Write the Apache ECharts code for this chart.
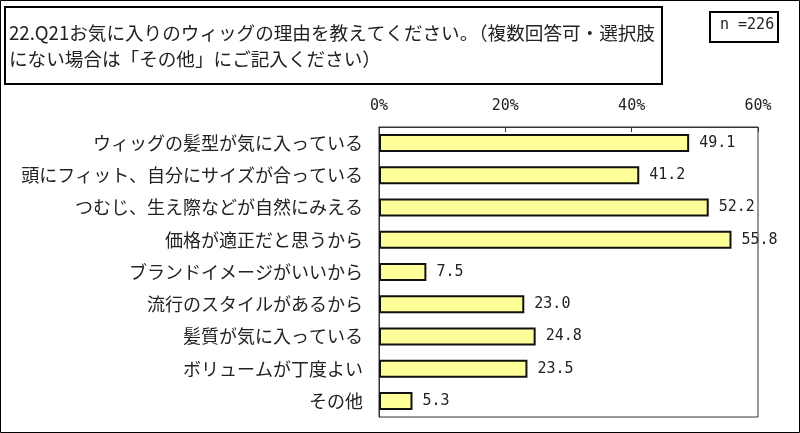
<!DOCTYPE html>
<html><head><meta charset="utf-8">
<script src="https://cdn.jsdelivr.net/npm/echarts@6/dist/echarts.min.js"></script>
<style>html,body{margin:0;padding:0;background:#fff}#c{width:800px;height:433px}</style>
</head><body><div id="c"></div>
<script>
const categories = ["ウィッグの髪型が気に入っている","頭にフィット、自分にサイズが合っている","つむじ、生え際などが自然にみえる","価格が適正だと思うから","ブランドイメージがいいから","流行のスタイルがあるから","髪質が気に入っている","ボリュームが丁度よい","その他"];
const values = [49.1, 41.2, 52.2, 55.8, 7.5, 23.0, 24.8, 23.5, 5.3];
const xTicks = [0, 20, 40, 60];
const titleLines = ["22.Q21お気に入りのウィッグの理由を教えてください。（複数回答可・選択肢", "にない場合は「その他」にご記入ください）"];
const nLabel = "n =226";

const jp = '"Noto Sans CJK JP", sans-serif';
const chart = echarts.init(document.getElementById('c'), null, {renderer:'canvas'});
chart.setOption({
  animation:false,
  backgroundColor:'#fff',
  grid:{left:379, right:42, top:127, bottom:16, show:true, borderColor:'#333', borderWidth:1, backgroundColor:'transparent'},
  xAxis:{type:'value', position:'top', min:xTicks[0], max:xTicks[xTicks.length-1], interval:20,
    axisLine:{show:true, lineStyle:{color:'#333'}},
    axisTick:{show:true, inside:true, length:5, lineStyle:{color:'#333'}},
    splitLine:{show:false},
    axisLabel:{formatter:'{value}%', color:'#222', fontFamily:'"DejaVu Sans Mono", monospace', fontSize:15, margin:13}
  },
  yAxis:{type:'category', inverse:true, data:categories,
    axisLine:{show:true, lineStyle:{color:'#333'}},
    axisTick:{show:false},
    axisLabel:{color:'#222', fontFamily:jp, fontSize:18, margin:16}
  },
  series:[{type:'bar', data:values, barWidth:18,
    itemStyle:{color:'#FFFF99', borderColor:'#111', borderWidth:2},
    label:{show:true, position:'right', distance:10, formatter:p=>p.value.toFixed(1), color:'#222', fontFamily:'"DejaVu Sans Mono", monospace', fontSize:15}
  }],
  graphic:[
    {type:'rect', shape:{x:0.5,y:0.5,width:799,height:432}, style:{fill:'none', stroke:'#000', lineWidth:1}},
    {type:'rect', shape:{x:5,y:7,width:657,height:77}, style:{fill:'#fff', stroke:'#000', lineWidth:2}},
    {type:'text', left:9, top:20, style:{text:titleLines.join('\n'), font:'18.6px '+jp, fill:'#222', lineHeight:26}},
    {type:'rect', shape:{x:710,y:12,width:68,height:30}, style:{fill:'#fff', stroke:'#000', lineWidth:2}},
    {type:'text', left:720, top:18, style:{text:nLabel, font:'15px "DejaVu Sans Mono", monospace', fill:'#222'}}
  ]
});
</script></body></html>
